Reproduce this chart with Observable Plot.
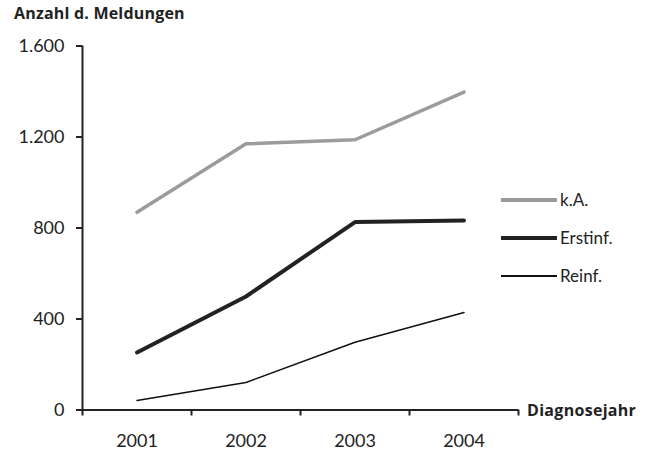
<!DOCTYPE html>
<html><head><meta charset="utf-8">
<script src="https://cdn.jsdelivr.net/npm/d3@7"></script>
<script src="https://cdn.jsdelivr.net/npm/@observablehq/plot@0.6"></script>
<style>
body{margin:0;background:#fff;font-family:Lato,"Open Sans",sans-serif;}
#wrap{position:relative;width:649px;height:455px;}
#title{position:absolute;left:14px;top:2px;font:bold 16px "Open Sans",sans-serif;color:#222;letter-spacing:0.2px;}
#chart{position:absolute;left:0;top:30px;}
.leg{position:absolute;left:501px;width:150px;height:20px;}
.leg span{position:absolute;left:59px;top:-11px;font-size:17px;color:#222;}
.leg i{position:absolute;left:0;width:56px;display:block;}
#xlab{position:absolute;left:527px;top:399px;font:bold 16px "Open Sans",sans-serif;color:#222;letter-spacing:0.3px;}
</style></head>
<body><div id="wrap"><div id="title">Anzahl d. Meldungen</div><div id="chart"></div><div id="legend"></div><div id="xlab">Diagnosejahr</div></div>
<script>
const years = [2001, 2002, 2003, 2004];
const seriesNames = ["k.A.", "Erstinf.", "Reinf."];
const kA = [869, 1170, 1188, 1397];
const erstinf = [253, 499, 826, 833];
const reinf = [42, 121, 298, 429];
const yTicks = [0, 400, 800, 1200, 1600];

const values = {"k.A.": kA, "Erstinf.": erstinf, "Reinf.": reinf};
const styles = {"k.A.": {stroke: "#9b9b9b", w: 3.5}, "Erstinf.": {stroke: "#222", w: 4}, "Reinf.": {stroke: "#111", w: 1.5}};
const data = seriesNames.flatMap(s => years.map((y, i) => ({series: s, year: y, value: values[s][i]})));
const de = d3.formatLocale({decimal: ",", thousands: ".", grouping: [3], currency: ["", "€"]});
const fmt = de.format(",");
const bounds = [2000.5, 2001.5, 2002.5, 2003.5, 2004.5];

const plot = Plot.plot({
  width: 649, height: 425,
  marginTop: 15.5, marginBottom: 45.5, marginLeft: 82, marginRight: 131,
  style: {fontFamily: "Lato, 'Open Sans', sans-serif", fontSize: "18px", color: "#222", background: "#fff"},
  x: {type: "linear", domain: [2000.5, 2004.5]},
  y: {domain: [0, 1600]},
  marks: [
    Plot.axisY({ticks: yTicks, tickFormat: fmt, tickSize: 6, tickPadding: 12, label: null, stroke: "#222", strokeWidth: 2, fontSize: 18}),
    Plot.axisX({ticks: bounds, tickFormat: () => "", tickSize: 6, label: null, stroke: "#222", strokeWidth: 2}),
    Plot.axisX({ticks: years, tickFormat: d => String(d), tickSize: 0, tickPadding: 24, label: null, fontSize: 18}),
    Plot.ruleX([2000.5], {stroke: "#222", strokeWidth: 2}),
    Plot.ruleY([0], {stroke: "#222", strokeWidth: 2}),
    ...seriesNames.map(s => Plot.line(data.filter(d => d.series === s), {x: "year", y: "value", stroke: styles[s].stroke, strokeWidth: styles[s].w, strokeLinejoin: "miter"}))
  ]
});
document.getElementById("chart").appendChild(plot);

const legend = document.getElementById("legend");
const legY = [200, 238, 276];
seriesNames.forEach((s, i) => {
  const d = document.createElement("div");
  d.className = "leg";
  d.style.top = legY[i] + "px";
  const st = styles[s];
  d.innerHTML = `<i style="top:${-st.w/2}px;height:${st.w}px;background:${st.stroke}"></i><span>${s}</span>`;
  legend.appendChild(d);
});
</script></body></html>
